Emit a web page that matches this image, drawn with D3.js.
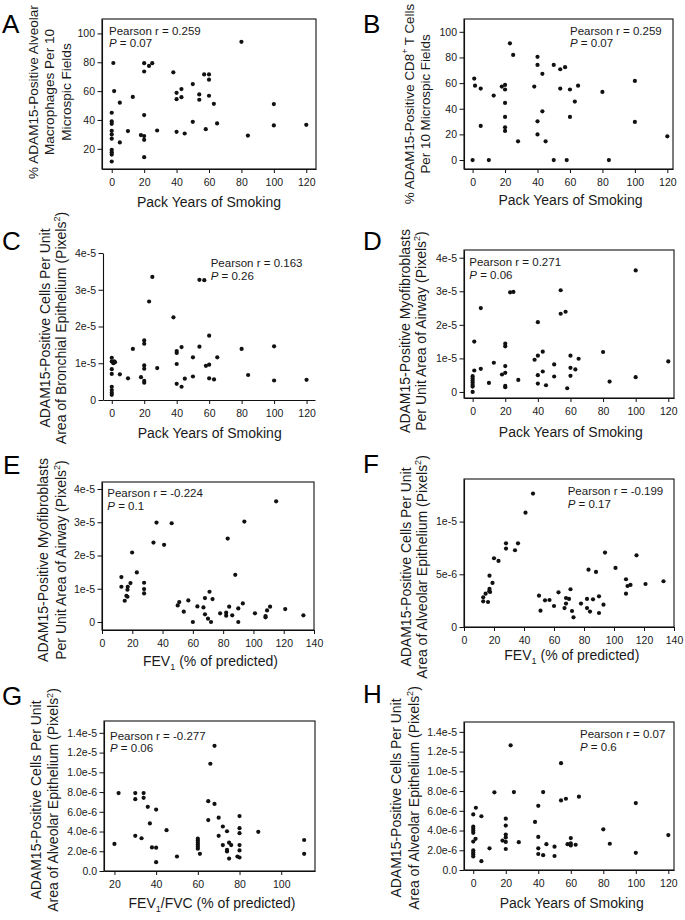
<!DOCTYPE html>
<html><head><meta charset="utf-8">
<script src="https://cdn.jsdelivr.net/npm/d3@7"></script>
<style>
html,body{margin:0;padding:0;background:#fff;}
svg{display:block;font-family:"Liberation Sans",Arial,Helvetica,sans-serif;}
</style></head><body>
<svg id="fig" width="685" height="920"></svg>
<script>
// ---------------- DATA ----------------
// A: pack years vs % ADAM15+ alveolar macrophages
const aPackYears = [1,1.5,0,0,0,0,0,0,0,0,0,0,5,5,10,13,18,20,20,20,20,20,20,23,25,28,38,40,40,40,43,43,45,50,50,54,54,57,58,60,60,60,63,65,80,84,100,100,120];
const aMacrophagePct = [79.5,60,45,39,37.3,32.5,30,27,19.3,17.7,16,11.2,52,24.4,32.3,56,29.5,79.4,73.6,43.4,28.8,26.2,14.2,77.5,79.4,32.7,73,58.8,54.4,31.8,61.4,55.8,30.6,64.9,38.7,57.7,54,71.6,33.6,71.6,67.9,56.8,51.2,37.6,94.2,29.2,51,36.2,36.6];
// B: pack years vs % ADAM15+ CD8+ T cells
const bPackYears = [1,1.5,0,5,5,10,13,18,20,20,20,20,20,20,23,25,28,38,40,40,40,40,43,43,45,50,50,54,54,57,58,60,60,63,65,80,84,100,100,120];
const bCD8Pct = [63.5,58,0,55.7,26.6,0,50.3,57.3,58.6,55,44.5,33.6,25.5,22.7,91,82,14.6,57.3,80.5,74.2,30.2,20,67.2,38,14.6,74.2,0,70.8,55.7,72.4,0,55,33.6,45.6,58,53.1,0,61.7,29.7,18.5];
// C: pack years vs ADAM15+ cells / bronchial epithelium (units of 1e-5)
const cPackYears = [0,0,1,1.5,2,0,0,0,0,0,0,5,10,13,18,20,20,20,20,20,20,23,25,28,38,40,40,40,40,43,43,45,50,50,54,54,57,58,60,60,60,63,65,80,84,100,100,120];
const cBronchialCells = [1.15,1.05,1.0,1.05,1.03,0.84,0.71,0.36,0.27,0.2,0.14,0.7,0.59,1.39,0.62,1.62,1.53,0.94,0.85,0.52,0.47,2.68,3.35,0.87,2.25,1.33,1.28,0.98,0.44,1.44,0.36,0.58,1.16,0.64,1.45,3.27,3.26,0.93,1.75,0.96,0.59,0.56,1.16,1.39,0.68,1.46,0.53,0.55];
// D: pack years vs ADAM15+ myofibroblasts / airway (units of 1e-5)
const dPackYears = [0,0,0,0,0,0,0,1,1,5,5,10,13,18,20,20,20,20,20,20,23,25,28,38,40,40,40,40,43,43,45,50,50,54,54,57,58,60,60,60,63,65,80,84,100,100,120];
const dMyofibroblasts = [0.47,0.4,0.34,0.28,0.21,0.16,0,0.64,1.5,0.69,2.5,0.27,0.87,0.52,1.44,1.36,0.77,0.57,0.18,0.14,2.97,2.98,0.36,0.96,2.08,1.08,0.5,0.25,1.2,0.61,0.2,0.82,0.46,3.03,2.33,2.39,0.11,1.08,0.72,0.48,0.67,0.99,1.19,0.31,3.62,0.44,0.91];
// E: FEV1 vs ADAM15+ myofibroblasts / airway (units of 1e-5)
const eFEV1 = [12.8,12.8,15,16.1,16.8,16.8,17,18.8,19.9,23,27.8,27.8,27.8,34,36,41,46,50,51,54,57,60,63,67,68,68,70,71,72,73,78,82,82,83,84,86,88,90,90,93,94,101,108,108,109,111,115,121,133];
const eMyofibroblasts = [1.35,1.06,0.64,0.79,0.76,0.97,1.06,1.17,2.09,1.49,1.18,0.99,0.86,2.39,2.99,2.32,2.97,0.5,0.6,0.31,0.65,0,0.47,0.44,0.72,0.23,0.1,0.91,0,0.69,0.26,0.28,0.19,2.51,0.46,0.2,1.42,0.41,0,0.56,3.02,0.26,0.18,0.14,0.35,0.46,3.63,0.39,0.2];
// F: FEV1 vs ADAM15+ cells / alveolar epithelium (units of 1e-6)
const fFEV1 = [12.8,12.8,14.4,16,16.8,17,17,17.4,19,20,23,28,28,34,36,41,46,50,51,54,57,60,63,67,68,68,70,71,72,73,78,82,82,83,84,86,88,90,90,93,94,101,108,108,109,111,115,121,133];
const fAlveolarCells = [2.82,2.44,3.16,2.37,3.39,3.61,4.87,3.32,4.18,6.52,6.27,7.94,7.44,7.28,7.94,10.85,12.66,2.97,1.55,2.53,2.56,1.99,3.29,1.8,2.75,2.22,2.66,3.58,1.52,0.92,2.22,2.66,1.8,5.44,1.46,2.63,5.22,2.91,1.33,2.12,7.06,5.6,4.53,3.16,3.89,3.99,6.8,4.08,4.34];
// G: FEV1/FVC vs ADAM15+ cells / alveolar epithelium (units of 1e-6)
const gFEV1FVC = [20,22,30,30,30,33,34,34,36,37,38,40,40,40,45,50,60,60,60,60,60,60,61,65,65,66,68,68,70,70,72,72,74,74,74,75,75,76,80,80,80,80,80,79,80,89,111,111];
const gAlveolarCells = [2.74,7.9,7.9,7.28,3.56,3.32,7.9,7.42,6.5,4.82,2.39,6.22,2.36,0.89,4.14,1.47,3.28,3.08,2.87,2.67,2.46,2.26,1.74,7.08,5.16,10.87,12.68,6.8,5.4,3.56,4.51,2.63,4.03,2.15,1.98,1.26,2.87,2.63,5.57,4.34,3.83,2.63,2.08,1.47,1.37,3.97,3.14,1.74];
// H: pack years vs ADAM15+ cells / alveolar epithelium (units of 1e-6)
const hPackYears = [0,0,0,0,0,1.4,0,0,0,0,0,1.6,5,5,10,13,18,20,20,20,20,20,20,23,25,28,38,40,40,40,40,43,43,45,50,50,54,54,57,58,60,60,60,63,65,80,84,100,100,120];
const hAlveolarCells = [5.63,4.39,4.19,3.98,3.77,3.16,2.88,1.99,1.78,1.58,1.37,6.31,5.45,0.89,2.2,7.87,2.98,5.2,4.5,3.6,3.3,2.85,2.13,12.64,7.9,2.82,4.87,6.5,3.35,2.2,1.62,7.9,1.5,2.62,2.36,1.42,10.83,7.05,7.22,2.62,3.24,2.69,2.49,2.56,7.43,4.12,2.66,6.78,1.74,3.54];

// ticks
const packYearTicks = [0,20,40,60,80,100,120];
const fev1Ticks = [0,20,40,60,80,100,120,140];
const fev1fvcTicks = [20,40,60,80,100];
const pctTicksA = [20,40,60,80,100];
const pctTicksB = [0,20,40,60,80,100];
const sci5Ticks = [0,1,2,3,4];
const sci5Labels = ["0","1e-5","2e-5","3e-5","4e-5"];
const fTicks = [0,5,10];
const fLabels = ["0","5e-6","1e-5"];
const alvTicks = [0,2,4,6,8,10,12,14];
const alvLabels = ["0.0","2.0e-6","4.0e-6","6.0e-6","8.0e-6","1.0e-5","1.2e-5","1.4e-5"];

// statistics text
const pearsonR = ["0.259","0.259","0.163","0.271","-0.224","-0.199","-0.277","0.07"];
const pValues = ["0.07","0.07","0.26","0.06","0.1","0.17","0.06","0.6"];
const panelLetters = ["A","B","C","D","E","F","G","H"];

// axis titles (^{} superscript, _{} subscript)
const packTitle = "Pack Years of Smoking";
const fev1Title = "FEV_{1} (% of predicted)";
const fev1fvcTitle = "FEV_{1}/FVC (% of predicted)";
const yTitleA = ["% ADAM15-Positive Alveolar","Macrophages Per 10","Microspic Fields"];
const yTitleB = ["% ADAM15-Positive CD8^{+} T Cells","Per 10 Microspic Fields"];
const yTitleC = ["ADAM15-Positive Cells Per Unit","Area of Bronchial Epithelium (Pixels^{2})"];
const yTitleMyo = ["ADAM15-Positive Myofibroblasts","Per Unit Area of Airway (Pixels^{2})"];
const yTitleAlv = ["ADAM15-Positive Cells Per Unit","Area of Alveolar Epithelium (Pixels^{2})"];

// ---------------- LAYOUT ----------------
const panels = [
  {xs:aPackYears, ys:aMacrophagePct, box:[102,316,19,169], xd:[-6,126], yd:[6,110], xt:packYearTicks, yt:pctTicksA, yl:null,
   xTitle:packTitle, xtx:209, xty:206.5, yTitle:yTitleA, ytx:[33,49.5,66], yty:92, ytfs:13.6, ann:[109,34.5], letter:[2,33], framed:true},
  {xs:bPackYears, ys:bCD8Pct, box:[464,673,19,169], xd:[-5.3,123.5], yd:[-7,110], xt:packYearTicks, yt:pctTicksB, yl:null,
   xTitle:packTitle, xtx:570.5, xty:205, yTitle:yTitleB, ytx:[409,425], yty:104, ytfs:13.4, ann:[570,34.5], letter:[363,33], framed:true},
  {xs:cPackYears, ys:cBronchialCells, box:[103,315,253,400], xd:[-5.4,125.2], yd:[0,4], xt:packYearTicks, yt:sci5Ticks, yl:sci5Labels,
   xTitle:packTitle, xtx:209.7, xty:438, yTitle:yTitleC, ytx:[45,61], yty:328, ytfs:14, ann:[210.7,267], letter:[2,250], framed:false},
  {xs:dPackYears, ys:dMyofibroblasts, box:[464,674,250,398], xd:[-5.3,123.5], yd:[-0.18,4.23], xt:packYearTicks, yt:sci5Ticks, yl:sci5Labels,
   xTitle:packTitle, xtx:570.8, xty:437, yTitle:yTitleMyo, ytx:[405,420.5], yty:331, ytfs:14, ann:[469.3,266], letter:[363,250], framed:true},
  {xs:eFEV1, ys:eMyofibroblasts, box:[102,314,482,630], xd:[0,140], yd:[-0.24,4.21], xt:fev1Ticks, yt:sci5Ticks, yl:sci5Labels,
   xTitle:fev1Title, xtx:210.5, xty:666, yTitle:yTitleMyo, ytx:[43.3,60.7], yty:560, ytfs:14, ann:[107.3,497], letter:[3,474], framed:true},
  {xs:fFEV1, ys:fAlveolarCells, box:[464,674,479,627], xd:[0,140], yd:[0,14.04], xt:fev1Ticks, yt:fTicks, yl:fLabels,
   xTitle:fev1Title, xtx:571.8, xty:659.5, yTitle:yTitleAlv, ytx:[406,421.7], yty:567, ytfs:14, ann:[567.7,495], letter:[363,473], framed:true},
  {xs:gFEV1FVC, ys:gAlveolarCells, box:[104,315,721,871], xd:[15,116.2], yd:[0,15.2], xt:fev1fvcTicks, yt:alvTicks, yl:alvLabels,
   xTitle:fev1fvcTitle, xtx:212, xty:908, yTitle:yTitleAlv, ytx:[36,53.3], yty:800, ytfs:14, ann:[110,739.5], letter:[2,705], framed:true},
  {xs:hPackYears, ys:hAlveolarCells, box:[464,674,722,870], xd:[-5.7,123.5], yd:[0,15], xt:packYearTicks, yt:alvTicks, yl:alvLabels,
   xTitle:packTitle, xtx:571.7, xty:908, yTitle:yTitleAlv, ytx:[396,414], yty:798, ytfs:14, ann:[580,738], letter:[363,703], framed:true}
];

const svg = d3.select("#fig");
const INK = "#111";
const TXT = "#1a1a1a";

function rich(textSel, str, fs) {
  const parts = str.split(/(\^\{[^}]*\}|_\{[^}]*\})/).filter(s => s.length);
  let back = 0;
  parts.forEach(p => {
    if (p.startsWith("^{")) {
      textSel.append("tspan").attr("dy", -0.4*fs).attr("font-size", fs*0.65).text(p.slice(2,-1));
      back = 0.4*fs;
    } else if (p.startsWith("_{")) {
      textSel.append("tspan").attr("dy", 0.3*fs).attr("font-size", fs*0.65).text(p.slice(2,-1));
      back = -0.3*fs;
    } else {
      const t = textSel.append("tspan").text(p);
      if (back) t.attr("dy", back);
      back = 0;
    }
  });
}

panels.forEach((p, i) => {
  const [x0, x1, y0, y1] = p.box;
  const x = d3.scaleLinear().domain(p.xd).range([x0, x1]);
  const y = d3.scaleLinear().domain(p.yd).range([y1, y0]);
  const g = svg.append("g");

  // axes
  const xa = d3.axisBottom(x).tickValues(p.xt).tickSize(4).tickPadding(5.5).tickSizeOuter(0);
  const ya = d3.axisLeft(y).tickValues(p.yt).tickSize(4.5).tickPadding(2.5).tickSizeOuter(0);
  if (p.yl) ya.tickFormat((d, k) => p.yl[k]);
  const gx = g.append("g").attr("transform", `translate(0,${y1})`).call(xa);
  const gy = g.append("g").attr("transform", `translate(${x0},0)`).call(ya);
  [gx, gy].forEach(a => {
    a.selectAll("path.domain").attr("stroke", INK).attr("stroke-width", 1.1);
    a.selectAll(".tick line").attr("stroke", INK).attr("stroke-width", 1);
    a.selectAll(".tick text").attr("fill", TXT).attr("font-size", 10.5)
      .attr("font-family", '"Liberation Sans",Arial,Helvetica,sans-serif');
  });
  if (p.framed) {
    g.append("rect").attr("x", x0).attr("y", y0).attr("width", x1 - x0).attr("height", y1 - y0)
      .attr("fill", "none").attr("stroke", INK).attr("stroke-width", 1.1);
  }

  // points
  g.append("g").selectAll("circle").data(p.xs.map((v, k) => [v, p.ys[k]])).join("circle")
    .attr("cx", d => x(d[0])).attr("cy", d => y(d[1])).attr("r", 2.1).attr("fill", INK);

  // annotation
  const ann = g.append("text").attr("x", p.ann[0]).attr("y", p.ann[1]).attr("font-size", 11.5).attr("fill", TXT);
  ann.text("Pearson r = " + pearsonR[i]);
  const ann2 = g.append("text").attr("x", p.ann[0]).attr("y", p.ann[1] + 12.8).attr("font-size", 11.5).attr("fill", TXT);
  ann2.append("tspan").attr("font-style", "italic").text("P");
  ann2.append("tspan").text(" = " + pValues[i]);

  // x title
  const xt = g.append("text").attr("x", p.xtx).attr("y", p.xty).attr("text-anchor", "middle")
    .attr("font-size", 14).attr("fill", TXT);
  rich(xt, p.xTitle, 14);

  // y title
  p.yTitle.forEach((line, k) => {
    const t = g.append("text").attr("transform", `translate(${p.ytx[k]},${p.yty}) rotate(-90)`)
      .attr("text-anchor", "middle").attr("dy", "0.36em").attr("font-size", p.ytfs).attr("fill", TXT);
    rich(t, line, p.ytfs);
  });

  // panel letter
  g.append("text").attr("x", p.letter[0]).attr("y", p.letter[1]).attr("font-size", 26)
    .attr("fill", "#000").text(panelLetters[i]);
});
</script>
</body></html>
